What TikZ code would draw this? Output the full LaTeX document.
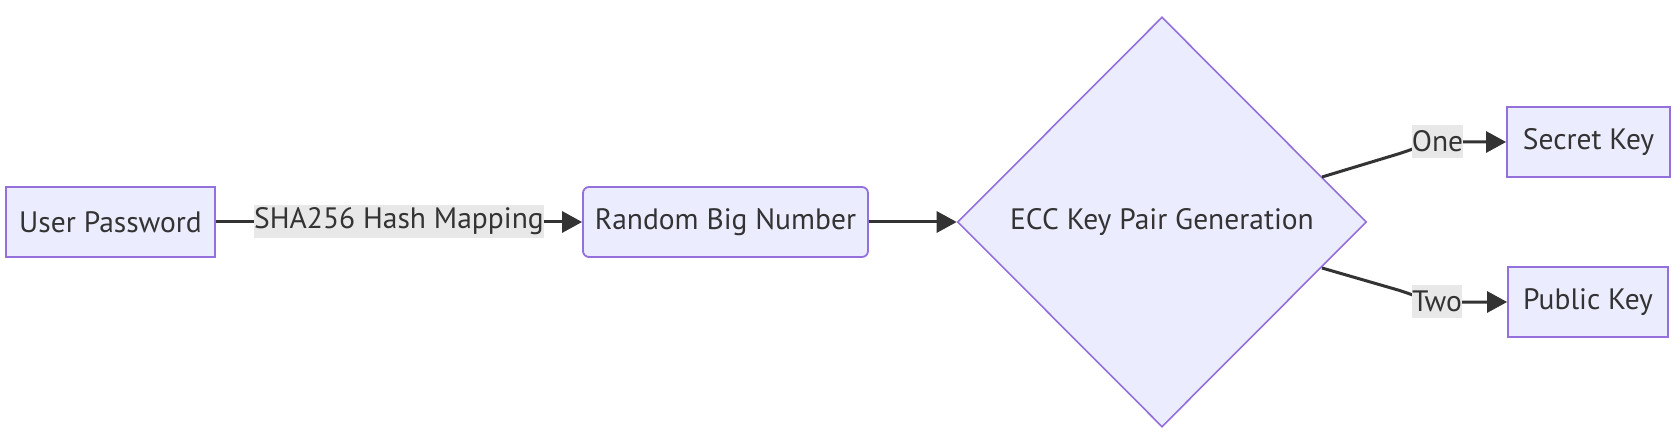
\documentclass[tikz,border=0pt]{standalone}
\usepackage{fontspec}
\setmainfont{PT Sans}
\usetikzlibrary{shapes.geometric,arrows.meta}
\definecolor{nodefill}{HTML}{ECECFF}
\definecolor{nodeline}{HTML}{9370DB}
\definecolor{edgecol}{HTML}{333333}
\definecolor{lblbg}{HTML}{E8E8E8}
\begin{document}
\begin{tikzpicture}[x=1pt,y=-1pt,
  every node/.style={text=edgecol,font=\fontsize{29.5}{34}\selectfont},
  box/.style={draw=nodeline,fill=nodefill,line width=1.8pt,inner sep=0pt,minimum height=70pt},
  dia/.style={draw=nodeline,fill=nodefill,line width=1.6pt,diamond,inner sep=0pt,minimum width=409pt,minimum height=410pt},
  edge/.style={draw=edgecol,line width=3pt,-{Triangle[length=20pt,width=21pt]}},
  lbl/.style={fill=lblbg,inner sep=0pt,minimum height=33pt}]
\useasboundingbox (0,0) rectangle (1680,438);
\node[box,minimum width=209pt] (up) at (110.5,222) {User Password};
\node[box,minimum width=285pt,rounded corners=6pt] (rbn) at (725.5,222) {Random Big Number};
\node[dia] (ecc) at (1162,222) {ECC Key Pair Generation};
\node[box,minimum width=163pt] (sk) at (1588.5,142) {Secret Key};
\node[box,minimum width=160pt] (pk) at (1588,302) {Public Key};
\coordinate (e1) at (1322,177);
\coordinate (e2) at (1322,268);
\path[edge] (up.east) -- (rbn.west);
\path[edge] (rbn.east) -- (ecc.west);
\path[edge] (e1) -- (1398,154) .. controls (1420,147) and (1428,142) .. (1450,142) -- (sk.west);
\path[edge] (e2) -- (1398,290) .. controls (1420,297) and (1428,302) .. (1450,302) -- (pk.west);
\node[lbl,minimum width=278pt] (l1) at (399,221.5) {SHA256 Hash Mapping};
\node[lbl,minimum width=51pt] (l2) at (1437.5,141.5) {One};
\node[lbl,minimum width=50pt] (l3) at (1437,301) {Two};
\end{tikzpicture}
\end{document}
